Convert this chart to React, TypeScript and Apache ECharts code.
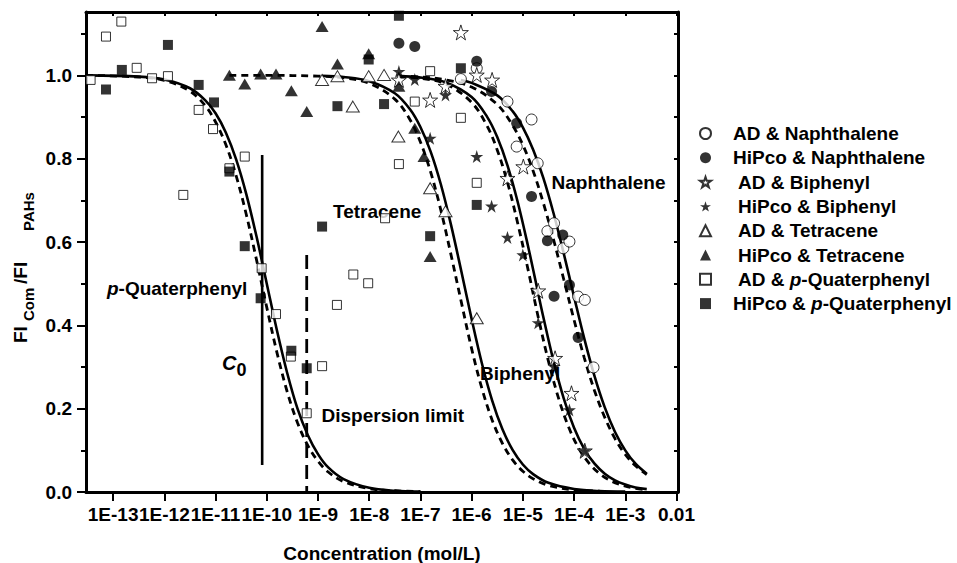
import React, { useEffect, useRef } from "react";
import * as echarts from "echarts";

// x values are log10(concentration / mol L^-1), y values are FI_Com / FI_PAHs
const xTickExps = [-13, -12, -11, -10, -9, -8, -7, -6, -5, -4, -3, -2];
const xTickLabels = ["1E-13", "1E-12", "1E-11", "1E-10", "1E-9", "1E-8", "1E-7", "1E-6", "1E-5", "1E-4", "1E-3", "0.01"];
const yMajorTicks = [0, 0.2, 0.4, 0.6, 0.8, 1.0];
const yMinorTicks = [0.1, 0.3, 0.5, 0.7, 0.9, 1.1];
const yRightTicks = [0, 0.1, 0.2, 0.3, 0.4, 0.5, 0.6, 0.7, 0.8, 0.9, 1.0, 1.1];

const seriesNames = [
  "AD & Naphthalene",
  "HiPco & Naphthalene",
  "AD & Biphenyl",
  "HiPco & Biphenyl",
  "AD & Tetracene",
  "HiPco & Tetracene",
  "AD & p-Quaterphenyl",
  "HiPco & p-Quaterphenyl",
];

const adNaph = [[-6.21, 0.991], [-5.9, 1.017], [-5.3, 0.937], [-5.12, 0.829], [-4.83, 0.894], [-4.71, 0.789], [-4.52, 0.626], [-4.39, 0.645], [-4.21, 0.585], [-4.09, 0.601], [-3.92, 0.469], [-3.79, 0.461], [-3.62, 0.299]];
const hipcoNaph = [[-7.42, 1.077], [-7.11, 1.069], [-5.9, 1.034], [-5.61, 0.961], [-5.12, 0.885], [-4.83, 0.709], [-4.52, 0.603], [-4.22, 0.617], [-4.39, 0.47], [-4.09, 0.497], [-3.92, 0.371]];
const adBiph = [[-7.42, 0.989], [-6.81, 0.941], [-6.51, 0.974], [-6.21, 1.103], [-5.9, 1.001], [-5.6, 0.989], [-5.3, 0.753], [-4.99, 0.781], [-4.7, 0.483], [-4.37, 0.321], [-4.05, 0.237], [-3.79, 0.099]];
const hipcoBiph = [[-7.42, 1.009], [-7.11, 0.99], [-6.81, 0.849], [-6.51, 0.953], [-5.9, 0.805], [-5.61, 0.686], [-5.3, 0.611], [-5.0, 0.569], [-4.7, 0.406], [-4.39, 0.301], [-4.09, 0.197], [-3.79, 0.099]];
const adTetra = [[-8.92, 0.989], [-8.62, 0.998], [-8.32, 0.925], [-8.01, 0.998], [-7.71, 1.001], [-7.43, 0.853], [-6.81, 0.729], [-6.51, 0.674], [-5.9, 0.417]];
const hipcoTetra = [[-10.73, 1.0], [-10.43, 0.979], [-10.12, 1.003], [-9.82, 1.003], [-9.52, 0.963], [-9.22, 0.913], [-8.92, 1.117], [-8.62, 1.027], [-8.01, 1.052], [-7.42, 0.974], [-7.11, 0.873], [-6.93, 0.805], [-6.81, 0.565]];
const adQuat = [[-13.44, 0.989], [-13.14, 1.093], [-12.84, 1.129], [-12.54, 1.018], [-12.24, 0.993], [-11.93, 0.998], [-11.63, 0.713], [-11.33, 0.917], [-11.05, 0.871], [-10.73, 0.777], [-10.43, 0.805], [-10.1, 0.537], [-9.82, 0.427], [-9.53, 0.325], [-9.22, 0.189], [-8.92, 0.302], [-8.63, 0.449], [-8.31, 0.522], [-8.02, 0.501], [-7.69, 0.657], [-7.42, 0.787], [-7.11, 0.937], [-6.81, 1.01], [-6.21, 0.898], [-5.9, 0.742]];
const hipcoQuat = [[-13.14, 0.966], [-12.83, 1.013], [-11.93, 1.073], [-11.33, 0.977], [-11.03, 0.935], [-10.73, 0.769], [-10.43, 0.59], [-10.12, 0.465], [-9.52, 0.339], [-9.22, 0.297], [-8.92, 0.637], [-8.62, 0.926], [-8.01, 1.038], [-7.71, 0.931], [-7.42, 1.143], [-6.81, 0.614], [-6.21, 1.017], [-5.9, 0.689]];

// fitted curves (solid = AD, dashed = HiPco)
const quatSolid = [[-13.53, 1.0], [-12.5, 0.997], [-12.0, 0.99], [-11.5, 0.969], [-11.2, 0.94], [-11.0, 0.909], [-10.8, 0.863], [-10.6, 0.799], [-10.4, 0.715], [-10.2, 0.613], [-10.0, 0.5], [-9.8, 0.387], [-9.6, 0.285], [-9.4, 0.2], [-9.2, 0.137], [-9.0, 0.091], [-8.8, 0.059], [-8.5, 0.031], [-8.0, 0.01], [-7.5, 0.003], [-7.0, 0.001]];
const quatDashed = [[-13.53, 1.0], [-12.5, 0.996], [-12.0, 0.988], [-11.5, 0.962], [-11.2, 0.927], [-11.0, 0.888], [-10.8, 0.834], [-10.6, 0.76], [-10.4, 0.666], [-10.2, 0.557], [-10.0, 0.443], [-9.8, 0.334], [-9.6, 0.24], [-9.4, 0.166], [-9.2, 0.112], [-9.0, 0.074], [-8.8, 0.048], [-8.5, 0.025], [-8.0, 0.008], [-7.5, 0.003], [-7.0, 0.001]];
const tetraSolid = [[-8.92, 0.999], [-8.5, 0.996], [-8.0, 0.986], [-7.5, 0.957], [-7.2, 0.918], [-7.0, 0.876], [-6.8, 0.817], [-6.6, 0.738], [-6.4, 0.64], [-6.2, 0.529], [-6.0, 0.415], [-5.8, 0.309], [-5.6, 0.22], [-5.4, 0.151], [-5.2, 0.101], [-5.0, 0.066], [-4.8, 0.043], [-4.5, 0.022], [-4.0, 0.007], [-3.5, 0.002], [-3.0, 0.001]];
const tetraDashed = [[-10.73, 1.0], [-10.0, 1.0], [-9.0, 0.998], [-8.5, 0.994], [-8.0, 0.981], [-7.5, 0.943], [-7.2, 0.893], [-7.0, 0.84], [-6.8, 0.768], [-6.6, 0.676], [-6.4, 0.568], [-6.2, 0.455], [-6.0, 0.344], [-5.8, 0.249], [-5.6, 0.173], [-5.4, 0.117], [-5.2, 0.077], [-5.0, 0.05], [-4.8, 0.032], [-4.5, 0.016], [-4.0, 0.005], [-3.5, 0.002]];
const biphSolid = [[-7.42, 0.998], [-7.0, 0.995], [-6.5, 0.983], [-6.0, 0.948], [-5.7, 0.901], [-5.5, 0.852], [-5.3, 0.784], [-5.1, 0.696], [-4.9, 0.591], [-4.74, 0.5], [-4.6, 0.42], [-4.4, 0.314], [-4.2, 0.224], [-4.0, 0.154], [-3.8, 0.103], [-3.6, 0.068], [-3.4, 0.044], [-3.2, 0.028], [-3.0, 0.018], [-2.8, 0.011], [-2.58, 0.007]];
const biphDashed = [[-7.42, 0.997], [-7.0, 0.993], [-6.5, 0.979], [-6.0, 0.935], [-5.7, 0.879], [-5.5, 0.821], [-5.3, 0.743], [-5.1, 0.645], [-4.9, 0.535], [-4.7, 0.42], [-4.5, 0.314], [-4.3, 0.224], [-4.1, 0.154], [-3.9, 0.103], [-3.7, 0.068], [-3.5, 0.044], [-3.3, 0.028], [-3.1, 0.018], [-2.9, 0.011], [-2.58, 0.005]];
const naphSolid = [[-6.21, 0.989], [-6.0, 0.982], [-5.5, 0.952], [-5.2, 0.914], [-5.0, 0.875], [-4.8, 0.822], [-4.6, 0.754], [-4.4, 0.669], [-4.2, 0.572], [-4.0, 0.469], [-3.8, 0.368], [-3.6, 0.278], [-3.4, 0.203], [-3.2, 0.144], [-3.0, 0.1], [-2.8, 0.068], [-2.58, 0.044]];
const naphDashed = [[-7.42, 0.998], [-7.0, 0.996], [-6.5, 0.989], [-6.0, 0.972], [-5.5, 0.93], [-5.2, 0.88], [-5.0, 0.833], [-4.8, 0.771], [-4.6, 0.694], [-4.4, 0.606], [-4.2, 0.51], [-4.0, 0.413], [-3.8, 0.322], [-3.6, 0.243], [-3.4, 0.179], [-3.2, 0.128], [-3.0, 0.09], [-2.8, 0.063], [-2.58, 0.042]];

const c0Line = [[-10.09, 0.809], [-10.09, 0.065]];
const dispersionLine = [[-9.22, 0.569], [-9.22, 0.0]];

const FONT = "'Liberation Sans', Arial, Helvetica, sans-serif";
const STAR = "path://M50,2 L61.2,36.2 L97.6,36.2 L68.2,57.6 L79.4,92 L50,70.8 L20.6,92 L31.8,57.6 L2.4,36.2 L38.8,36.2 Z";

export default function App() {
  const ref = useRef<HTMLDivElement>(null);

  useEffect(() => {
    if (!ref.current) return;
    const chart = echarts.init(ref.current, null, { renderer: "svg" });

    const open = { color: "#fff", borderColor: "#000", borderWidth: 1 };
    const filled = { color: "#000", borderColor: "#000", borderWidth: 0 };
    const scatterDefs: any[] = [
      { name: seriesNames[0], data: adNaph, symbol: "circle", symbolSize: 11, itemStyle: open },
      { name: seriesNames[1], data: hipcoNaph, symbol: "circle", symbolSize: 11, itemStyle: filled },
      { name: seriesNames[2], data: adBiph, symbol: STAR, symbolSize: 15, itemStyle: open },
      { name: seriesNames[3], data: hipcoBiph, symbol: STAR, symbolSize: 13, itemStyle: filled },
      { name: seriesNames[4], data: adTetra, symbol: "triangle", symbolSize: [13, 11], itemStyle: open },
      { name: seriesNames[5], data: hipcoTetra, symbol: "triangle", symbolSize: [13, 11], itemStyle: filled },
      { name: seriesNames[6], data: adQuat, symbol: "rect", symbolSize: 9, itemStyle: open },
      { name: seriesNames[7], data: hipcoQuat, symbol: "rect", symbolSize: 10, itemStyle: filled },
    ];

    const lineSeries = (data: number[][], dashed: boolean, dash?: number[]) => ({
      type: "line",
      data,
      symbol: "none",
      showSymbol: false,
      smooth: 0.35,
      silent: true,
      z: 2,
      lineStyle: { color: "#000", width: dashed ? 2.8 : 2.6, type: dashed ? dash || [7, 5] : "solid" },
    });

    const axisLine = { show: true, onZero: false, lineStyle: { color: "#000", width: 3 } };
    const xMin = -13.53;
    const xMax = -1.97;

    const indented = [2, 3, 4, 5, 6];
    const legendFormatter = (name: string) => {
      const idx = seriesNames.indexOf(name);
      const gap = indented.indexOf(idx) >= 0 ? "{g2| }" : "{g1| }";
      if (name.indexOf("p-") >= 0) {
        const [pre, post] = name.split("p-");
        return gap + "{b|" + pre + "}{i|p}{b|-" + post + "}";
      }
      return gap + "{b|" + name + "}";
    };

    const txt = (text: string, x: number, y: number, extra: any = {}) => ({
      type: "text",
      x,
      y,
      silent: true,
      style: {
        text,
        fill: "#000",
        fontSize: 19,
        fontWeight: "bold",
        fontFamily: FONT,
        textAlign: "left",
        textVerticalAlign: "middle",
        ...extra,
      },
    });
    const vtxt = (text: string, x: number, y: number, size: number) => ({
      type: "text",
      x,
      y,
      rotation: Math.PI / 2,
      silent: true,
      style: {
        text,
        fill: "#000",
        fontSize: size,
        fontWeight: "bold",
        fontFamily: FONT,
        textAlign: "left",
        textVerticalAlign: "middle",
      },
    });

    chart.setOption({
      animation: false,
      backgroundColor: "#fff",
      grid: { left: 86, right: 279, top: 12, bottom: 71, containLabel: false },
      xAxis: [
        {
          type: "value",
          min: xMin,
          max: xMax,
          position: "bottom",
          axisLine,
          axisTick: { show: true, inside: false, length: 9, customValues: xTickExps, lineStyle: { color: "#000", width: 2 } },
          axisLabel: {
            customValues: xTickExps,
            formatter: (v: number) => xTickLabels[xTickExps.indexOf(Math.round(v))] || "",
            color: "#000",
            fontSize: 19,
            fontWeight: "bold",
            fontFamily: FONT,
            margin: 13,
          },
          splitLine: { show: false },
        },
        {
          type: "value",
          min: xMin,
          max: xMax,
          position: "top",
          axisLine,
          axisTick: { show: true, inside: true, length: 4, customValues: xTickExps, lineStyle: { color: "#000", width: 2 } },
          axisLabel: { show: false },
          splitLine: { show: false },
        },
      ],
      yAxis: [
        {
          type: "value",
          min: 0,
          max: 1.152,
          position: "left",
          axisLine,
          axisTick: { show: true, inside: false, length: 9, customValues: yMajorTicks, lineStyle: { color: "#000", width: 2 } },
          axisLabel: {
            customValues: yMajorTicks,
            formatter: (v: number) => v.toFixed(1),
            color: "#000",
            fontSize: 19,
            fontWeight: "bold",
            fontFamily: FONT,
            margin: 14,
          },
          splitLine: { show: false },
        },
        {
          type: "value",
          min: 0,
          max: 1.152,
          position: "left",
          axisLine: { show: false },
          axisTick: { show: true, inside: false, length: 5, customValues: yMinorTicks, lineStyle: { color: "#000", width: 2 } },
          axisLabel: { show: false },
          splitLine: { show: false },
        },
        {
          type: "value",
          min: 0,
          max: 1.152,
          position: "right",
          axisLine,
          axisTick: { show: true, inside: true, length: 4, customValues: yRightTicks, lineStyle: { color: "#000", width: 2 } },
          axisLabel: { show: false },
          splitLine: { show: false },
        },
      ],
      legend: {
        orient: "vertical",
        left: 694,
        top: 119,
        itemWidth: 11,
        itemHeight: 11,
        itemGap: 5.3,
        selectedMode: false,
        data: seriesNames,
        formatter: legendFormatter,
        textStyle: {
          color: "#000",
          fontSize: 19,
          fontWeight: "bold",
          fontFamily: FONT,
          lineHeight: 19,
          rich: {
            g1: { width: 17, fontSize: 19, lineHeight: 19 },
            g2: { width: 22, fontSize: 19, lineHeight: 19 },
            b: { fontSize: 19, fontWeight: "bold", fontFamily: FONT, color: "#000", lineHeight: 19 },
            i: { fontSize: 19, fontWeight: "bold", fontStyle: "italic", fontFamily: FONT, color: "#000", lineHeight: 19 },
          },
        },
      },
      series: [
        lineSeries(quatSolid, false),
        lineSeries(quatDashed, true),
        lineSeries(tetraSolid, false),
        lineSeries(tetraDashed, true),
        lineSeries(biphSolid, false),
        lineSeries(biphDashed, true),
        lineSeries(naphSolid, false),
        lineSeries(naphDashed, true),
        { ...lineSeries(c0Line, false), smooth: false },
        { ...lineSeries(dispersionLine, true, [14, 7]), smooth: false },
        ...scatterDefs.map((s) => ({ type: "scatter", z: 4, ...s })),
      ],
      graphic: [
        {
          type: "text",
          x: 107,
          y: 288,
          silent: true,
          style: {
            text: "{i|p}{b|-Quaterphenyl}",
            textAlign: "left",
            textVerticalAlign: "middle",
            rich: {
              i: { fontSize: 19, fontWeight: "bold", fontStyle: "italic", fontFamily: FONT, fill: "#000" },
              b: { fontSize: 19, fontWeight: "bold", fontFamily: FONT, fill: "#000" },
            },
          },
        },
        txt("C", 222, 363, { fontStyle: "italic", fontSize: 20 }),
        txt("0", 236.5, 370, { fontSize: 18 }),
        txt("Tetracene", 333, 211),
        txt("Naphthalene", 551.5, 182),
        txt("Biphenyl", 480, 373),
        txt("Dispersion limit", 321.5, 415),
        txt("Concentration (mol/L)", 382, 553, { textAlign: "center" }),
        vtxt("FI", 20, 343, 19),
        vtxt("Com", 28.5, 321, 15),
        vtxt("/FI", 20, 284, 19),
        vtxt("PAHs", 28.5, 231, 15),
      ],
    });

    return () => chart.dispose();
  }, []);

  return (
    <div
      ref={ref}
      style={{ position: "fixed", left: 0, top: 0, width: 957, height: 563, background: "#fff" }}
    />
  );
}
